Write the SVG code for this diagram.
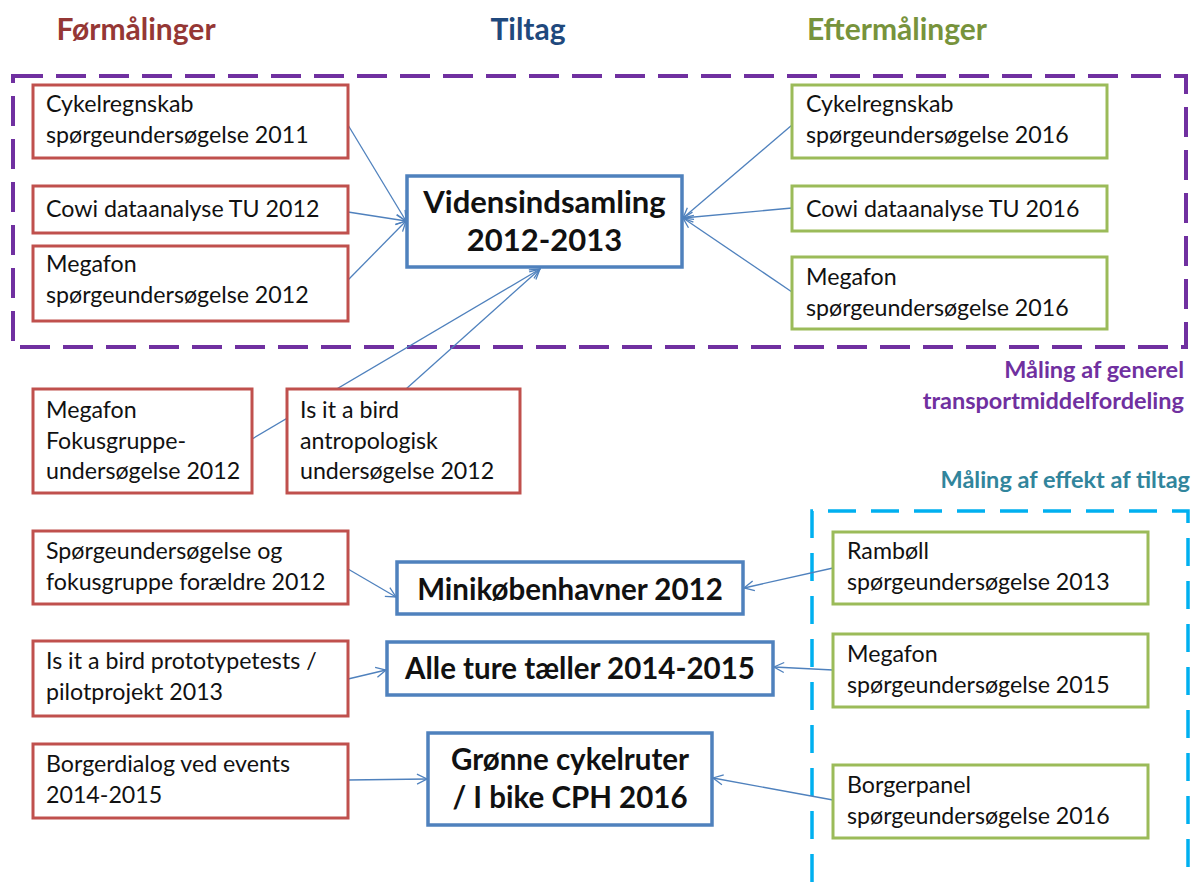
<svg xmlns="http://www.w3.org/2000/svg" width="1196" height="882" viewBox="0 0 1196 882">
<defs>
<style>
.t{font-family:Lato,"Liberation Sans",sans-serif;font-size:23.2px;fill:#111}
.tb{font-family:Lato,"Liberation Sans",sans-serif;font-size:29.5px;font-weight:bold;fill:#111;text-anchor:middle}
.h{font-family:Lato,"Liberation Sans",sans-serif;font-size:30px;font-weight:bold;text-anchor:middle}
.lbl{font-family:Lato,"Liberation Sans",sans-serif;font-size:23.5px;font-weight:bold;text-anchor:end}
.red{fill:#fff;stroke:#c0504d;stroke-width:3}
.grn{fill:#fff;stroke:#9bbb59;stroke-width:3}
.blu{fill:#fff;stroke:#4f81bd;stroke-width:3.5}
.con line{stroke:#4f81bd;stroke-width:1.3;marker-end:url(#arr)}
</style>
<marker id="arr" viewBox="0 0 12 12" refX="11" refY="6" markerWidth="12" markerHeight="12" markerUnits="userSpaceOnUse" orient="auto">
<path d="M1,1 L11,6 L1,11" fill="none" stroke="#4f81bd" stroke-width="1.3"/>
</marker>
</defs>
<rect width="1196" height="882" fill="#fff"/>

<g id="headers">
<text class="h" x="136" y="40" fill="#953735">Førmålinger</text>
<text class="h" x="528" y="40" fill="#1f497d">Tiltag</text>
<text class="h" x="897" y="40" fill="#77933c">Eftermålinger</text>
</g>

<g id="group-general">
<rect x="13" y="76" width="1173" height="271" fill="none" stroke="#7030a0" stroke-width="4" stroke-dasharray="30 13"/>
<text class="lbl" x="1184" y="378" fill="#7030a0">Måling af generel</text>
<text class="lbl" x="1184" y="409" fill="#7030a0">transportmiddelfordeling</text>
</g>

<g id="group-effekt">
<path d="M812,882 V511 H1188 V882" fill="none" stroke="#00b0f0" stroke-width="3.5" stroke-dasharray="28 15"/>
<text class="lbl" x="1190" y="488" fill="#31859c">Måling af effekt af tiltag</text>
</g>

<g id="connectors" class="con">
<line x1="348" y1="125" x2="406" y2="221"/>
<line x1="348" y1="212" x2="406" y2="221"/>
<line x1="348" y1="280" x2="406" y2="221"/>
<line x1="792" y1="125" x2="683" y2="218"/>
<line x1="792" y1="208" x2="683" y2="218"/>
<line x1="792" y1="292" x2="683" y2="218"/>
<line x1="252" y1="439" x2="540" y2="269"/>
<line x1="406" y1="389" x2="540" y2="269"/>
<line x1="348" y1="569" x2="396" y2="597"/>
<line x1="348" y1="679" x2="386" y2="670"/>
<line x1="348" y1="780" x2="427" y2="779"/>
<line x1="833" y1="568" x2="744" y2="588"/>
<line x1="833" y1="670" x2="774" y2="667"/>
<line x1="833" y1="800" x2="713" y2="778"/>
</g>

<g id="n-cykel2011"><rect class="red" x="33" y="85" width="315" height="73"/>
<text class="t" x="46" y="112">Cykelregnskab</text><text class="t" x="46" y="143">spørgeundersøgelse 2011</text></g>
<g id="n-cowi2012"><rect class="red" x="33" y="186" width="315" height="47"/>
<text class="t" x="46" y="217">Cowi dataanalyse TU 2012</text></g>
<g id="n-megafon2012"><rect class="red" x="33" y="246" width="315" height="75"/>
<text class="t" x="46" y="272">Megafon</text><text class="t" x="46" y="303">spørgeundersøgelse 2012</text></g>

<g id="n-videns"><rect class="blu" x="407" y="176" width="275" height="91"/>
<text class="tb" x="544.5" y="213" style="font-size:31px">Vidensindsamling</text><text class="tb" x="544.5" y="251" style="font-size:31px">2012-2013</text></g>

<g id="n-cykel2016"><rect class="grn" x="792" y="85" width="315" height="73"/>
<text class="t" x="806" y="112">Cykelregnskab</text><text class="t" x="806" y="143">spørgeundersøgelse 2016</text></g>
<g id="n-cowi2016"><rect class="grn" x="792" y="186" width="315" height="45"/>
<text class="t" x="806" y="217">Cowi dataanalyse TU 2016</text></g>
<g id="n-megafon2016"><rect class="grn" x="792" y="257" width="315" height="72"/>
<text class="t" x="806" y="285">Megafon</text><text class="t" x="806" y="316">spørgeundersøgelse 2016</text></g>

<g id="n-fokus2012"><rect class="red" x="33" y="389" width="219" height="104"/>
<text class="t" x="46" y="418">Megafon</text><text class="t" x="46" y="449">Fokusgruppe-</text><text class="t" x="46" y="479">undersøgelse 2012</text></g>
<g id="n-bird2012"><rect class="red" x="287" y="389" width="233" height="104"/>
<text class="t" x="300" y="418">Is it a bird</text><text class="t" x="300" y="449">antropologisk</text><text class="t" x="300" y="479">undersøgelse 2012</text></g>

<g id="n-spoerge"><rect class="red" x="33" y="531" width="315" height="73"/>
<text class="t" x="46" y="559">Spørgeundersøgelse og</text><text class="t" x="46" y="590">fokusgruppe forældre 2012</text></g>
<g id="n-proto"><rect class="red" x="33" y="641" width="315" height="75"/>
<text class="t" x="46" y="669">Is it a bird prototypetests /</text><text class="t" x="46" y="700">pilotprojekt 2013</text></g>
<g id="n-borgerdialog"><rect class="red" x="33" y="744" width="315" height="74"/>
<text class="t" x="46" y="772">Borgerdialog ved events</text><text class="t" x="46" y="803">2014-2015</text></g>

<g id="n-mini"><rect class="blu" x="397" y="562" width="346" height="52"/>
<text class="tb" x="570" y="600">Minikøbenhavner 2012</text></g>
<g id="n-alle"><rect class="blu" x="387" y="642" width="386" height="53"/>
<text class="tb" x="580" y="679">Alle ture tæller 2014-2015</text></g>
<g id="n-groenne"><rect class="blu" x="428" y="733" width="284" height="92"/>
<text class="tb" x="570" y="770">Grønne cykelruter</text><text class="tb" x="570" y="808">/ I bike CPH 2016</text></g>

<g id="n-ramboll"><rect class="grn" x="833" y="532" width="315" height="72"/>
<text class="t" x="847" y="559">Rambøll</text><text class="t" x="847" y="590">spørgeundersøgelse 2013</text></g>
<g id="n-megafon2015"><rect class="grn" x="833" y="634" width="315" height="73"/>
<text class="t" x="847" y="662">Megafon</text><text class="t" x="847" y="693">spørgeundersøgelse 2015</text></g>
<g id="n-borgerpanel"><rect class="grn" x="833" y="765" width="315" height="73"/>
<text class="t" x="847" y="793">Borgerpanel</text><text class="t" x="847" y="824">spørgeundersøgelse 2016</text></g>
</svg>
